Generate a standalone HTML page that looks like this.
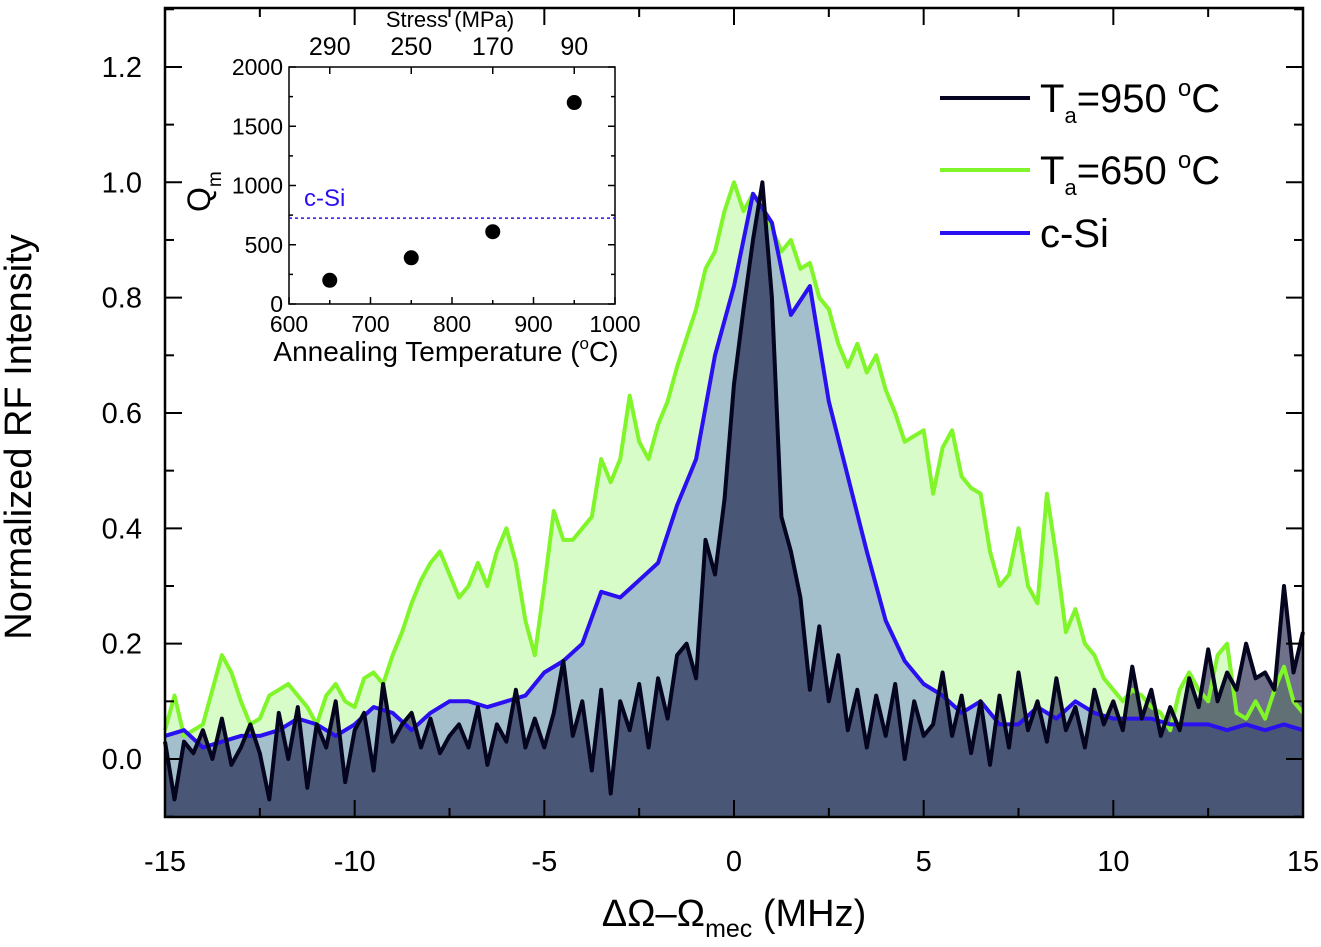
<!DOCTYPE html>
<html><head><meta charset="utf-8"><style>
body{margin:0;background:#fff;width:1321px;height:942px;overflow:hidden}
svg{font-family:"Liberation Sans",Arial,sans-serif}
</style></head><body>
<svg id="chart" width="1321" height="942" xmlns="http://www.w3.org/2000/svg"></svg>
<script>
const green650=[0.05,0.11,0.04,0.05,0.06,0.12,0.18,0.15,0.10,0.06,0.07,0.11,0.12,0.13,0.11,0.09,0.06,0.11,0.13,0.10,0.09,0.14,0.15,0.13,0.18,0.22,0.27,0.31,0.34,0.36,0.32,0.28,0.30,0.34,0.30,0.36,0.40,0.34,0.24,0.18,0.30,0.43,0.38,0.38,0.40,0.42,0.52,0.48,0.52,0.63,0.55,0.52,0.58,0.62,0.68,0.73,0.78,0.85,0.88,0.95,1.0,0.95,0.98,0.96,0.92,0.88,0.90,0.85,0.86,0.80,0.78,0.72,0.68,0.72,0.67,0.70,0.64,0.60,0.55,0.56,0.57,0.46,0.54,0.57,0.49,0.47,0.46,0.36,0.30,0.32,0.40,0.30,0.27,0.46,0.35,0.22,0.26,0.20,0.18,0.14,0.12,0.10,0.12,0.11,0.09,0.08,0.05,0.12,0.15,0.12,0.10,0.18,0.20,0.08,0.07,0.10,0.07,0.12,0.16,0.10,0.08];
const black950=[0.03,-0.07,0.03,0.01,0.05,0.0,0.07,-0.01,0.02,0.06,0.01,-0.07,0.08,0.00,0.09,-0.05,0.06,0.02,0.10,-0.04,0.05,0.08,-0.02,0.13,0.03,0.06,0.08,0.02,0.07,0.01,0.04,0.06,0.02,0.09,-0.01,0.06,0.03,0.12,0.02,0.07,0.02,0.08,0.17,0.04,0.10,-0.02,0.12,-0.06,0.10,0.05,0.13,0.02,0.14,0.07,0.18,0.20,0.14,0.38,0.32,0.45,0.65,0.78,0.90,1.0,0.80,0.42,0.36,0.28,0.12,0.23,0.10,0.18,0.05,0.12,0.02,0.11,0.04,0.13,0.00,0.10,0.04,0.06,0.15,0.04,0.11,0.01,0.10,-0.01,0.11,0.02,0.15,0.05,0.10,0.03,0.14,0.05,0.09,0.02,0.12,0.06,0.10,0.05,0.16,0.07,0.12,0.04,0.09,0.05,0.14,0.09,0.19,0.10,0.15,0.12,0.20,0.14,0.15,0.12,0.30,0.15,0.22];
const cSi=[0.04,0.05,0.02,0.03,0.04,0.04,0.05,0.07,0.06,0.04,0.06,0.09,0.08,0.05,0.08,0.10,0.10,0.09,0.10,0.11,0.15,0.17,0.20,0.29,0.28,0.31,0.34,0.44,0.52,0.70,0.82,0.98,0.93,0.77,0.82,0.62,0.49,0.36,0.24,0.17,0.13,0.11,0.08,0.10,0.06,0.06,0.09,0.07,0.10,0.08,0.07,0.07,0.07,0.06,0.06,0.06,0.05,0.06,0.05,0.06,0.05];
const xTicks=[-15,-10,-5,0,5,10,15];
const yTicks=[0.0,0.2,0.4,0.6,0.8,1.0,1.2];
const insetTemps=[650,750,850,950];
const insetQ=[200,390,610,1700];
const insetStress=["290","250","170","90"];
const insetXTicks=[600,700,800,900,1000];
const insetYTicks=[0,500,1000,1500,2000];
const cSiQ=725;

const NS="http://www.w3.org/2000/svg";
const svg=document.getElementById('chart');
function mk(tag,attrs,parent){const e=document.createElementNS(NS,tag);for(const k in attrs)e.setAttribute(k,attrs[k]);(parent||svg).appendChild(e);return e;}
const X=f=>165+(f+15)*(1138/30);
const Y=v=>759-v*576.7;
function series(arr,step){return arr.map((v,i)=>[X(-15+i*step),Y(v)]);}
function area(pts,fill,name){
  let d='M'+pts[0][0]+','+Y(-0.1);pts.forEach(p=>d+='L'+p[0].toFixed(1)+','+p[1].toFixed(1));d+='L'+pts[pts.length-1][0]+','+Y(-0.1)+'Z';
  const e=mk('path',{d:d,fill:fill});
  
  
}
function line(pts,color,w,name){
  const e=mk('polyline',{points:pts.map(p=>p[0].toFixed(1)+','+p[1].toFixed(1)).join(' '),fill:'none',stroke:color,'stroke-width':w,'stroke-linejoin':'round'});
  
  
}
const gP=series(green650,0.25),bP=series(black950,0.25),cP=series(cSi,0.5);
area(gP,'#d8fcc8','area-650');
area(cP,'#a4bfcc','area-csi');
area(bP,'rgba(8,10,55,0.58)','area-950');
line(gP,'#80f52a',4,'line-650');
line(cP,'#2a10f0',4,'line-csi');
line(bP,'#050520',4,'line-950');

let fr=mk('rect',{x:165,y:8,width:1138,height:809,fill:'none',stroke:'#000','stroke-width':2.5});


for(let f=-15;f<=15;f+=2.5){
  const major=f%5===0;
  mk('line',{x1:X(f),x2:X(f),y1:817,y2:major?800:808,stroke:'#000','stroke-width':2});
  mk('line',{x1:X(f),x2:X(f),y1:8,y2:major?25:17,stroke:'#000','stroke-width':2});
}
xTicks.forEach(f=>{
  const t=mk('text',{x:X(f),y:871,'font-size':29,'text-anchor':'middle'});t.textContent=f;
  
  
});
for(let v=-0.1;v<=1.31;v+=0.1){
  const major=Math.abs(Math.round(v*10)%2)===0;
  mk('line',{x1:165,x2:major?182:174,y1:Y(v),y2:Y(v),stroke:'#000','stroke-width':2});
  mk('line',{x1:1303,x2:major?1286:1294,y1:Y(v),y2:Y(v),stroke:'#000','stroke-width':2});
}
yTicks.forEach(v=>{
  const t=mk('text',{x:142,y:Y(v)+10,'font-size':29,'text-anchor':'end'});t.textContent=v.toFixed(1);
  
  
});
let xt=mk('text',{x:734,y:926,'font-size':38,'text-anchor':'middle'});
xt.innerHTML='ΔΩ–Ω<tspan font-size="25" dy="11">mec</tspan><tspan dy="-11"> (MHz)</tspan>';


let yt=mk('text',{x:0,y:0,'font-size':38,'text-anchor':'middle',transform:'translate(31,437) rotate(-90)'});
yt.textContent='Normalized RF Intensity';



const leg=[['#050520','950'],['#80f52a','650'],['#2a10f0',null]];
const ly=[98,170,233];
leg.forEach((l,i)=>{
  const g=mk('g',{});
  
  
  mk('line',{x1:940,x2:1030,y1:ly[i],y2:ly[i],stroke:l[0],'stroke-width':4},g);
  const t=mk('text',{x:1040,y:ly[i]+14,'font-size':40},g);
  if(l[1])t.innerHTML='T<tspan font-size="22" dy="11">a</tspan><tspan dy="-11">='+l[1]+' </tspan><tspan font-size="24" dy="-16">o</tspan><tspan dy="16">C</tspan>';
  else t.textContent='c-Si';
});

const IX=t=>289+(t-600)*(326/400);
const IY=q=>304-q*(237/2000);
const ig=mk('g',{});


mk('rect',{x:289,y:67,width:326,height:237,fill:'#fff',stroke:'#000','stroke-width':1.5},ig);
for(let t=600;t<=1000;t+=50){const m=t%100===0;mk('line',{x1:IX(t),x2:IX(t),y1:304,y2:m?297:300,stroke:'#000','stroke-width':1.5},ig);}
for(let q=0;q<=2000;q+=250){const m=q%500===0;mk('line',{x1:289,x2:m?296:293,y1:IY(q),y2:IY(q),stroke:'#000','stroke-width':1.5},ig);mk('line',{x1:615,x2:m?608:611,y1:IY(q),y2:IY(q),stroke:'#000','stroke-width':1.5},ig);}
insetXTicks.forEach(t=>{const e=mk('text',{x:IX(t),y:332,'font-size':23,'text-anchor':'middle'},ig);e.textContent=t;});
insetYTicks.forEach(q=>{const e=mk('text',{x:283,y:IY(q)+8,'font-size':23,'text-anchor':'end'},ig);e.textContent=q;});
insetTemps.forEach((t,i)=>{
  mk('line',{x1:IX(t),x2:IX(t),y1:67,y2:74,stroke:'#000','stroke-width':1.5},ig);
  const e=mk('text',{x:IX(t),y:55,'font-size':25,'text-anchor':'middle'},ig);e.textContent=insetStress[i];
  const c=mk('circle',{cx:IX(t),cy:IY(insetQ[i]),r:7.5,fill:'#000'},ig);
  
  
});
const dl=mk('line',{x1:289,x2:615,y1:IY(cSiQ),y2:IY(cSiQ),stroke:'#2a10f0','stroke-width':1.5,'stroke-dasharray':'3,3'},ig);


let cs=mk('text',{x:304,y:IY(cSiQ)-12,'font-size':24,fill:'#2a10f0'},ig);cs.textContent='c-Si';
let st=mk('text',{x:450,y:27,'font-size':22,'text-anchor':'middle'},ig);st.textContent='Stress (MPa)';
let at=mk('text',{x:446,y:361,'font-size':28,'text-anchor':'middle'},ig);
at.innerHTML='Annealing Temperature (<tspan font-size="17" dy="-12">o</tspan><tspan dy="12">C)</tspan>';
let qt=mk('text',{x:0,y:0,'font-size':32,transform:'translate(210,212) rotate(-90)'},ig);
qt.innerHTML='Q<tspan font-size="19" dy="11">m</tspan>';
</script>
</body></html>
